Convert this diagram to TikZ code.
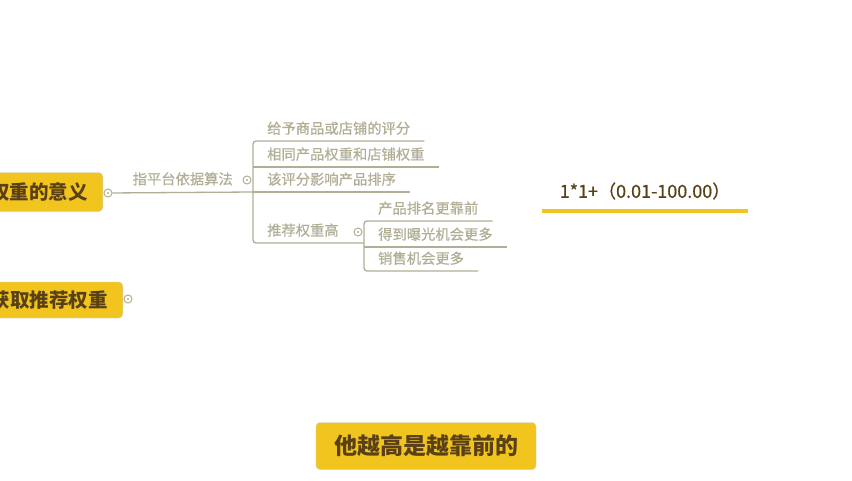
\documentclass[tikz,border=0pt]{standalone}
\usepackage{fontspec}
\setmainfont{Noto Sans CJK SC}
\newfontfamily\semifont[FakeBold=0.6]{Noto Sans CJK SC}
\usetikzlibrary{positioning}
\definecolor{mapyellow}{RGB}{242,197,30}
\definecolor{mapbrown}{RGB}{90,64,22}
\definecolor{twig}{RGB}{178,174,150}
\tikzset{
  topic/.style={rectangle, rounded corners=4pt, draw=black!18, fill=mapyellow,
                text=mapbrown, inner xsep=15pt, inner ysep=0pt,
                font=\fontsize{19.5}{22}\selectfont\bfseries},
  leaf/.style={anchor=south west, inner xsep=14pt, inner ysep=6pt,
               text=twig, font=\semifont\fontsize{14.3}{16}\selectfont},
  twigline/.style={draw=twig, line width=1.3pt},
  fold/.style={circle, draw=twig, fill=white, line width=1pt,
               minimum size=8pt, inner sep=0pt,
               path picture={\fill[twig] (path picture bounding box.center) circle (1.2pt);}},
  valline/.style={draw=mapyellow, line width=3.5pt},
}

\begin{document}
\begin{tikzpicture}[x=1pt, y=-1pt]

%% Canvas
\useasboundingbox (0,0) rectangle (852,480);
\fill[white] (0,0) rectangle (852,480);

%% Bracket x-positions
\def\xA{253}   % first bracket
\def\xB{364}   % second bracket

%% Main topics (cut off at the left edge)
\node[topic, anchor=east, minimum height=39pt] (wmean) at (103,192) {权重的意义};
\node[topic, anchor=east, minimum height=36pt] (wget) at (123,300) {获取推荐权重};
\node[fold] (fold1) at (108,193) {};
\node[fold] (fold4) at (128,299) {};

%% ── first level ─────────────────────────────────────────────────────────
\node[leaf] (c1) at (\xA,141) {给予商品或店铺的评分};
\node[leaf] (c2) at (\xA,167) {相同产品权重和店铺权重};
\node[leaf] (c3) at (\xA,192) {该评分影响产品排序};
\node[leaf] (c4) at (\xA,243) {推荐权重高};
\node[fold] (fold2) at (247,180) {};
\node[fold] (fold3) at (358,232) {};

%% ── second level ────────────────────────────────────────────────────────
\node[leaf] (d1) at (\xB,221) {产品排名更靠前};
\node[leaf] (d2) at (\xB,247) {得到曝光机会更多};
\node[leaf] (d3) at (\xB,271) {销售机会更多};

%% Links
\draw[twigline] (fold1) -- (c3.south west)
     node[midway, above=3pt, text=twig, font=\semifont\fontsize{14.3}{16}\selectfont] {指平台依据算法};
\draw[twigline, rounded corners=3pt] (c1.south east) -- (c1.south west)
     -- (c4.south west) -- (c4.south west -| d1.south west);
\draw[twigline] (c2.south west) -- (c2.south east);
\draw[twigline] (c3.south west) -- (c3.south east);
\draw[twigline, rounded corners=3pt] (d1.south east) -- (d1.south west)
     -- (d3.south west) -- (d3.south east);
\draw[twigline] (d2.south west) -- (d2.south east);

%% Value with yellow underline
\node[text=mapbrown, font=\semifont\fontsize{18}{20}\selectfont,
      minimum width=206pt, minimum height=40pt, inner sep=0pt] (val) at (645,191)
     {1*1+（0.01-100.00）};
\draw[valline] (val.south west) -- (val.south east);

%% Caption box
\node[topic, minimum width=220pt, minimum height=47pt,
      font=\fontsize{23}{26}\selectfont\bfseries] (note) at (426,446) {他越高是越靠前的};

\end{tikzpicture}
\end{document}
